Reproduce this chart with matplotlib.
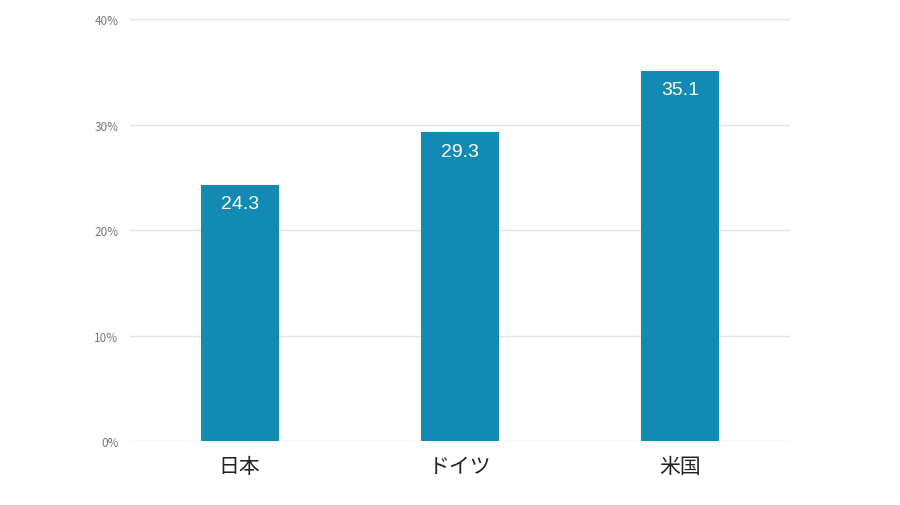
import matplotlib
matplotlib.use('Agg')
import matplotlib.pyplot as plt

plt.rcParams['font.family'] = ['Noto Sans CJK JP', 'DejaVu Sans']

countries = ['日本', 'ドイツ', '米国']
values = [24.3, 29.3, 35.1]
yticks = [0, 10, 20, 30, 40]

fig = plt.figure(figsize=(9, 5.06), dpi=100)
ax = fig.add_axes([0.144, 0.126, 0.734, 0.834])

x = range(len(countries))
bars = ax.bar(x, values, width=0.355, color='#128ab4', zorder=3)
for xi, v in zip(x, values):
    ax.text(xi, v - 1.0, f'{v:.1f}', ha='center', va='top', color='white',
            fontsize=14, family=['Liberation Sans', 'DejaVu Sans'], zorder=4)

ax.set_xlim(-0.5, 2.5)
ax.set_ylim(0, 40)
ax.set_yticks(yticks)
ax.set_yticklabels([f'{t}%' for t in yticks], color='#777777', fontsize=8.5)
ax.set_xticks(list(x))
ax.set_xticklabels(countries, fontsize=15, color='#222222')
ax.grid(axis='y', color='#e3e3e3', linewidth=1, zorder=0)
for s in ax.spines.values():
    s.set_visible(False)
ax.tick_params(axis='both', length=0)
ax.tick_params(axis='y', pad=8)
ax.tick_params(axis='x', pad=10)

fig.savefig('out.png', dpi=100)
